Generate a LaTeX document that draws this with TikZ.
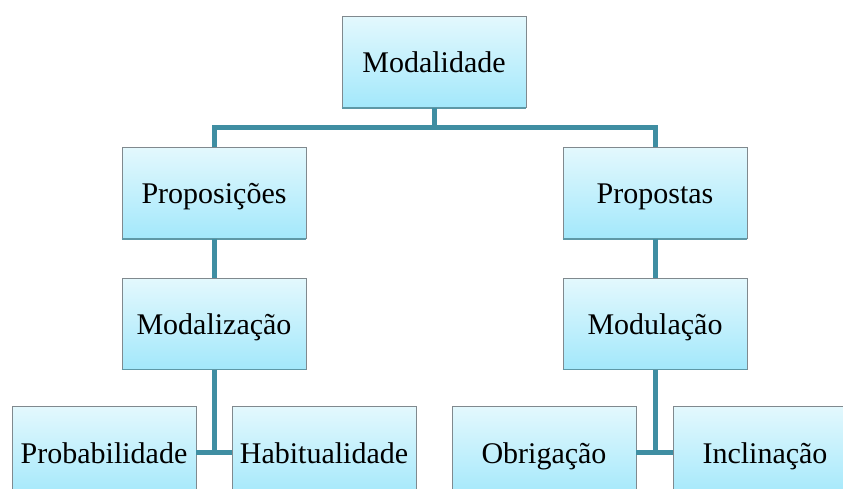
\documentclass[tikz,border=0pt]{standalone}
\usepackage{fontspec}
\setmainfont{Liberation Serif}
\usetikzlibrary{positioning}
\definecolor{boxtop}{HTML}{E3F8FD}
\definecolor{boxbot}{HTML}{A3E8FB}
\definecolor{boxline}{HTML}{80898E}
\definecolor{boxshade}{HTML}{5E98A6}
\definecolor{linkcol}{HTML}{3F8EA2}
\tikzstyle{box} = [draw=boxline, thick, top color=boxtop, bottom color=boxbot,
minimum width=184pt, minimum height=91pt, inner sep=0pt,
text height=22pt, text depth=0pt, font=\fontsize{30}{36}\selectfont,
append after command={(\tikzlastnode.south west) edge[draw=boxshade, line width=1.5pt]
(\tikzlastnode.south east)}]
\tikzstyle{link} = [draw=linkcol, line width=5pt]

\begin{document}
\begin{tikzpicture}[x=1pt, y=-1pt, node distance=39pt]
    \useasboundingbox (0,0) rectangle (843,489);
    \node [box] (modal) at (434,62) {Modalidade};
    \node [box] (propos) at (214,193) {Proposições};
    \node [box] (propost) at (655,193) {Propostas};
    \node [box, below=of propos] (modaliz) {Modalização};
    \node [box, below=of propost] (modul) {Modulação};
    \node [box] (prob) at (104,452) {Probabilidade};
    \node [box] (habit) at (324,452) {Habitualidade};
    \node [box] (obrig) at (544,452) {Obrigação};
    \node [box] (inclin) at (765,452) {Inclinação};
    %% Links
    \path [link] (modal.south) -- ++(0,20);
    \path [link] (propos.north) -- ++(0,-20) -| (propost.north);
    \path [link] (propos) -- (modaliz);
    \path [link] (propost) -- (modul);
    \path [link] (prob.east) -- (habit.west);
    \path [link] (modaliz.south) -- (modaliz.south |- prob.east);
    \path [link] (obrig.east) -- (inclin.west);
    \path [link] (modul.south) -- (modul.south |- obrig.east);
\end{tikzpicture}
\end{document}
